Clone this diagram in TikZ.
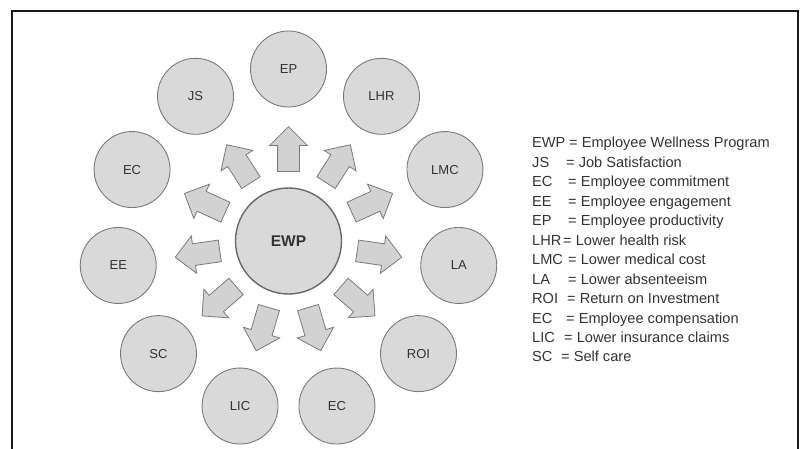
\documentclass[tikz,border=0pt]{standalone}
\usepackage{fontspec}
\setmainfont{Liberation Sans}
\usetikzlibrary{shapes.arrows,calc}
\definecolor{cfill}{HTML}{D9D9D9}
\definecolor{cline}{HTML}{7A7A7A}
\definecolor{afill}{HTML}{D2D2D2}
\definecolor{tcol}{HTML}{333333}
\begin{document}
\begin{tikzpicture}[x=1pt,y=1pt,
  sat/.style={circle,draw=cline,fill=cfill,line width=0.9pt,minimum size=76pt,inner sep=0pt,
              font=\fontsize{13}{13}\selectfont,text=tcol},
  hub/.style={circle,draw=cline!85!black,fill=cfill,line width=1.4pt,minimum size=106pt,inner sep=0pt,
              font=\fontsize{15.5}{15.5}\selectfont\bfseries,text=tcol},
  blk/.style={single arrow,draw=cline,fill=afill,line width=0.8pt,minimum height=45pt,
              inner xsep=0pt,inner ysep=10.5pt,single arrow head extend=8pt,
              single arrow tip angle=90,anchor=tail},
  leg/.style={anchor=base west,inner sep=0pt,font=\fontsize{14.6}{14.6}\selectfont,text=tcol}]
\useasboundingbox (0,0) rectangle (803,448);
\draw[line width=2pt,draw=black!90] (12,-5) -- (12,437) -- (798,437) -- (798,-5);
\node[hub] (EWP) at (288.5,207) {EWP};
\foreach \n/\a/\t in {EP/90/EP, JS/122.727/JS, ECa/155.455/EC, EE/188.182/EE,
    SC/220.909/SC, LIC/253.636/LIC, ECb/286.364/EC, ROI/319.091/ROI,
    LA/351.818/LA, LMC/24.545/LMC, LHR/57.273/LHR}{
  \node[sat] (\n) at ($(EWP)+(\a:172)$) {\t};
  \node[blk,rotate=\a] (a\n) at ($(EWP)!0.4012!(\n)$) {};
}
\foreach \i/\ab/\ex/\tx in {
    0/EWP/569/Employee Wellness Program,
    1/JS/566/Job Satisfaction,
    2/EC/568/Employee commitment,
    3/EE/568/Employee engagement,
    4/EP/568/Employee productivity,
    5/LHR/563/Lower health risk,
    6/LMC/568/Lower medical cost,
    7/LA/568/Lower absenteeism,
    8/ROI/567/Return on Investment,
    9/EC/566/Employee compensation,
    10/LIC/564/Lower insurance claims,
    11/SC/561/Self care}{
  \node[leg] (L\i a) at (532,300-\i*19.45) {\ab};
  \node[leg] (L\i b) at (\ex,300-\i*19.45) {= \tx};
}
\end{tikzpicture}
\end{document}
